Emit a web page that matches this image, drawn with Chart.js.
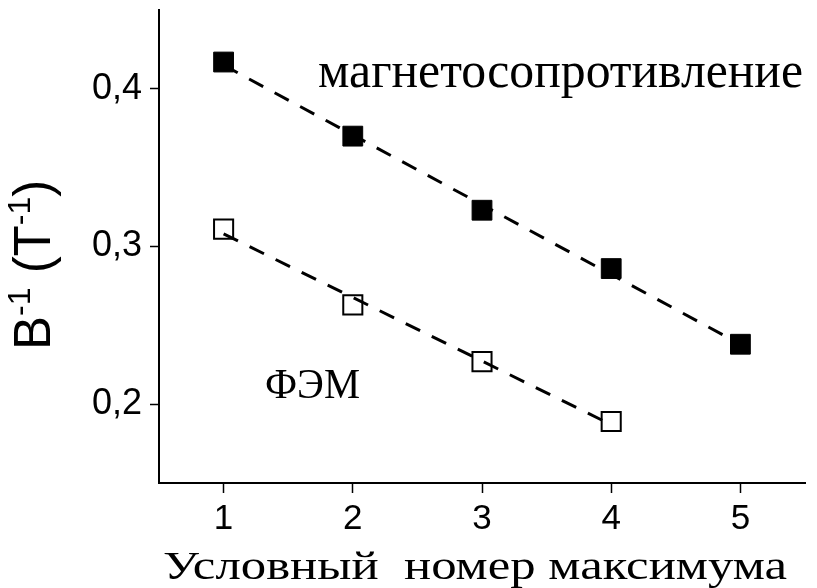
<!DOCTYPE html>
<html>
<head>
<meta charset="utf-8">
<script src="https://cdn.jsdelivr.net/npm/chart.js@4"></script>
<style>
  html, body { margin: 0; padding: 0; background: #fff; }
</style>
</head>
<body>
<canvas id="maxima-chart" width="817" height="588"></canvas>
<script>
// magnetoresistance maxima (filled squares)
const magnX = [1, 2, 3, 4, 5];
const magnY = [0.417, 0.370, 0.323, 0.286, 0.238];
// ФЭМ maxima (open squares)
const femX = [1, 2, 3, 4];
const femY = [0.311, 0.263, 0.227, 0.189];
// linear fits, end points
const magnFitX = [1, 5];
const magnFitY = [0.415, 0.238];
const femFitX = [1, 4];
const femFitY = [0.308, 0.187];

const xTicks = [1, 2, 3, 4, 5];
const yTicks = [0.2, 0.3, 0.4];

const toPoints = (xs, ys) => xs.map((x, i) => ({ x: x, y: ys[i] }));

// draws text squeezed/stretched to a given width
function fitText(ctx, text, x, y, width, font) {
  ctx.font = font;
  const w = ctx.measureText(text).width;
  ctx.save();
  ctx.translate(x, y);
  ctx.scale(width / w, 1);
  ctx.fillText(text, 0, 0);
  ctx.restore();
}

const labelsPlugin = {
  id: "labels",
  afterDraw(chart) {
    const ctx = chart.ctx;
    ctx.save();
    ctx.fillStyle = "#000";
    ctx.textBaseline = "alphabetic";
    ctx.textAlign = "left";

    fitText(ctx, "магнетосопротивление", 318, 87, 485, "50px 'Liberation Serif'");
    fitText(ctx, "ФЭМ", 265, 398, 95, "42px 'Liberation Serif'");
    fitText(ctx, "Условный  номер максимума", 163, 579, 624, "41px 'Liberation Serif'");

    // y title with superscripts, rotated
    ctx.translate(50, 350);
    ctx.rotate(-Math.PI / 2);
    const parts = [
      ["B", 51, 0],
      ["-1", 32, -20],
      [" (T", 51, 0],
      ["-1", 32, -20],
      [")", 51, 0],
    ];
    let pos = 0;
    parts.forEach(([t, size, dy]) => {
      ctx.font = size + "px 'Liberation Sans'";
      ctx.fillText(t, pos, dy);
      pos += ctx.measureText(t).width;
    });
    ctx.restore();
  },
};

const axisGrid = {
  drawOnChartArea: false,
  drawTicks: true,
  tickWidth: 1.5,
  tickColor: "#000",
};

new Chart(document.getElementById("maxima-chart"), {
  type: "scatter",
  data: {
    datasets: [
      {
        type: "line",
        data: toPoints(magnFitX, magnFitY),
        borderColor: "#000",
        borderWidth: 3,
        borderDash: [16, 13],
        pointRadius: 0,
        fill: false,
        order: 0,
      },
      {
        type: "line",
        data: toPoints(femFitX, femFitY),
        borderColor: "#000",
        borderWidth: 3,
        borderDash: [16, 13],
        pointRadius: 0,
        fill: false,
        order: 0,
      },
      {
        data: toPoints(magnX, magnY),
        pointStyle: "rect",
        pointRadius: 14,
        backgroundColor: "#000",
        borderColor: "#000",
        borderWidth: 1,
        order: 1,
      },
      {
        data: toPoints(femX, femY),
        pointStyle: "rect",
        pointRadius: 13.5,
        backgroundColor: "#fff",
        borderColor: "#000",
        borderWidth: 2,
        order: 1,
      },
    ],
  },
  options: {
    responsive: false,
    animation: false,
    devicePixelRatio: 1,
    layout: {
      autoPadding: false,
      padding: { top: 10, right: 12, left: 0, bottom: 0 },
    },
    scales: {
      x: {
        type: "linear",
        min: 0.5,
        max: 5.5,
        afterBuildTicks: (s) => {
          s.ticks = xTicks.map((v) => ({ value: v }));
        },
        afterFit: (s) => {
          s.height = 105;
          s.paddingLeft = 0;
          s.paddingRight = 0;
        },
        grid: { ...axisGrid, tickLength: 10 },
        border: { color: "#000", width: 2 },
        ticks: {
          color: "#000",
          padding: 5,
          maxRotation: 0,
          font: { family: "'Liberation Sans'", size: 35 },
        },
      },
      y: {
        type: "linear",
        min: 0.15,
        max: 0.45,
        afterBuildTicks: (s) => {
          s.ticks = yTicks.map((v) => ({ value: v }));
        },
        afterFit: (s) => {
          s.width = 159;
          s.paddingTop = 0;
          s.paddingBottom = 0;
        },
        grid: { ...axisGrid, tickLength: 9 },
        border: { color: "#000", width: 2 },
        ticks: {
          color: "#000",
          padding: 8,
          font: { family: "'Liberation Sans'", size: 36 },
          callback: (v) => v.toFixed(1).replace(".", ","),
        },
      },
    },
    plugins: {
      legend: { display: false },
      tooltip: { enabled: false },
    },
  },
  plugins: [labelsPlugin],
});
</script>
</body>
</html>
